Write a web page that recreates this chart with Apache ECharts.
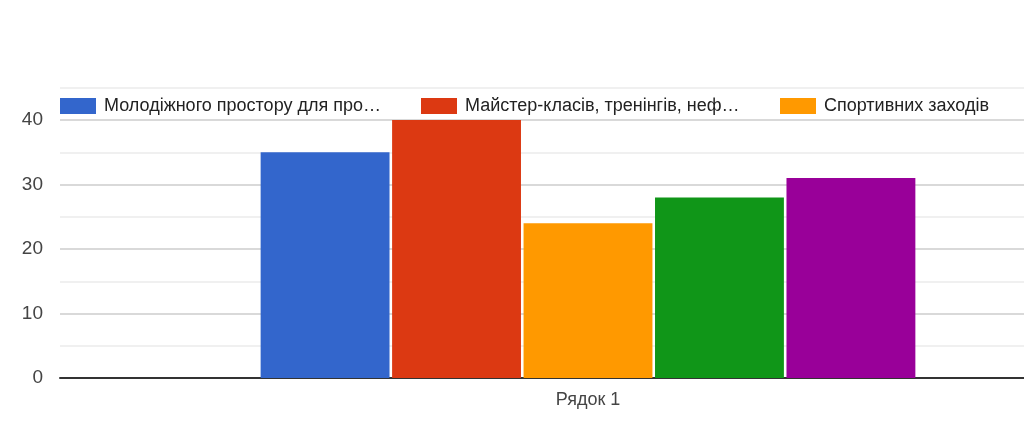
<!DOCTYPE html>
<html>
<head>
    <meta charset="utf-8">
    <title></title>
    <script src="https://cdn.jsdelivr.net/npm/echarts@6/dist/echarts.min.js"></script>
    <style>
        html, body { margin: 0; padding: 0; background: #fff; }
        #main { width: 1024px; height: 424px; }
    </style>
</head>
<body>
<div id="main"></div>
<script type="text/javascript">
    // values (legend names are shown truncated there)
    var categories = ['Рядок 1'];
    var seriesNames = [
        'Молодіжного простору для про…',
        'Майстер-класів, тренінгів, неф…',
        'Спортивних заходів',
        'Серія 4',
        'Серія 5'
    ];
    var seriesValues = [[35], [40], [24], [28], [31]];
    var seriesColors = ['#3366cc', '#dc3912', '#ff9900', '#109618', '#990099'];
    var yTicks = [0, 10, 20, 30, 40];

    var chart = echarts.init(document.getElementById('main'));
    var series = seriesNames.map(function (name, i) {
        return {
            name: name,
            type: 'bar',
            data: seriesValues[i],
            color: seriesColors[i],
            barGap: '2%',
            barCategoryGap: '38%'
        };
    });

    // one legend per visible item so each sits where the original puts it
    var legendLefts = [60, 421, 780];
    var legends = legendLefts.map(function (left, i) {
        return {
            data: [seriesNames[i]],
            left: left,
            top: 97,
            padding: 0,
            itemWidth: 36,
            itemHeight: 16,
            itemGap: 0,
            icon: 'rect',
            textStyle: { fontSize: 18, color: '#222', padding: [0, 0, 0, 3] }
        };
    });

    var option = {
        animation: false,
        textStyle: { fontFamily: 'Liberation Sans, Arial, sans-serif' },
        legend: legends,
        // the plot runs past the right edge of the picture
        grid: { left: 60, right: -92, top: 87.75, bottom: 46, outerBoundsMode: 'none' },
        xAxis: {
            type: 'category',
            data: categories,
            axisLine: { lineStyle: { color: '#333', width: 2 } },
            axisTick: { show: false },
            axisLabel: { fontSize: 18, color: '#444', margin: 13 }
        },
        yAxis: {
            type: 'value',
            min: 0,
            max: 45,
            interval: 5,
            axisLine: { show: false },
            axisTick: { show: false },
            axisLabel: {
                fontSize: 19,
                color: '#444',
                margin: 17,
                formatter: function (v) {
                    return yTicks.indexOf(v) >= 0 ? String(v) : '';
                }
            },
            splitLine: { lineStyle: { color: ['#cccccc', '#ebebeb'], width: 1.5 } }
        },
        series: series
    };
    chart.setOption(option);
</script>
</body>
</html>
